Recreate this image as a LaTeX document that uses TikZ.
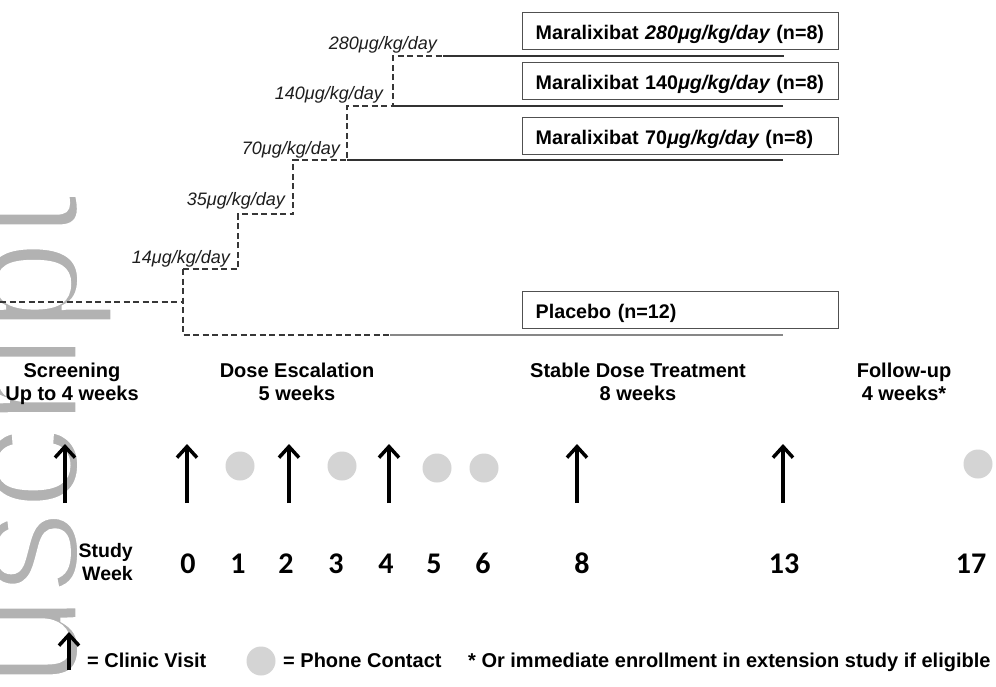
\documentclass[tikz,border=0pt]{standalone}
\usepackage{fontspec}
\setmainfont{Liberation Sans}
\newfontfamily\calibfont{Carlito}
\usetikzlibrary{arrows.meta}
\definecolor{dashcol}{RGB}{55,55,55}
\definecolor{armcol}{RGB}{50,50,50}
\definecolor{placebocol}{RGB}{135,135,135}
\definecolor{boxcol}{RGB}{80,80,80}
\definecolor{dotcol}{RGB}{212,212,212}
\definecolor{wmcol}{RGB}{178,178,178}
\definecolor{labcol}{RGB}{30,30,30}
% thin the watermark glyphs: fill, then stroke the outline in white
\newcommand\thinglyphs[1]{\special{pdf:literal direct 1 1 1 RG 5 w 2 Tr}#1\special{pdf:literal direct 0 Tr}}
\begin{document}
\begin{tikzpicture}[x=1pt,y=-1pt,
  dose/.style={draw=dashcol, line width=1.6pt, dash pattern=on 6pt off 3.5pt},
  arm/.style={draw=armcol, line width=1.5pt},
  placeboarm/.style={draw=placebocol, line width=2.2pt},
  armbox/.style={draw=boxcol, line width=1.4pt, anchor=north west,
    minimum width=316pt, minimum height=37pt, inner xsep=13pt, inner ysep=0pt,
    text width=290pt, align=left, text height=27pt, text depth=10pt,
    font=\fontsize{19.7}{22}\selectfont\bfseries},
  doselab/.style={anchor=base east, inner sep=0pt, text=labcol,
    font=\fontsize{18}{20}\selectfont\itshape},
  phase/.style={anchor=base, inner sep=0pt, align=center,
    font=\fontsize{20}{23}\selectfont\bfseries},
  weeknum/.style={anchor=base, inner sep=0pt,
    font=\calibfont\bfseries\fontsize{30}{32}\selectfont},
  legendtext/.style={anchor=base west, inner sep=0pt,
    font=\fontsize{20}{23}\selectfont\bfseries},
  visit/.style={line width=3.5pt, -{Straight Barb[length=11pt,width=20pt]}},
  phone/.style={circle, fill=dotcol, minimum size=29pt, inner sep=0pt},
  watermark/.style={rotate=90, anchor=base west, inner sep=0pt, text=wmcol,
    font=\fontsize{168}{170}\selectfont}
]
\useasboundingbox (0,0) rectangle (996,686);
\clip (0,0) rectangle (996,686);
\fill[white] (0,0) rectangle (996,686);

% watermark
\node[watermark] (wm) at (78,688) {\thinglyphs{uscript}};

% dose escalation coordinates
\coordinate (s0) at (0,302);
\coordinate (s1) at (183,302);
\coordinate (d0) at (183,269);
\coordinate (pl0) at (183,335);
\coordinate (pl1) at (390,335);
\coordinate (pl2) at (783,335);
\coordinate (a1) at (238,269);
\coordinate (a2) at (238,214);
\coordinate (a3) at (293,214);
\coordinate (a4) at (293,160);
\coordinate (a5) at (347,160);
\coordinate (a6) at (347,106);
\coordinate (a7) at (393,106);
\coordinate (a8) at (393,56);
\coordinate (a9) at (443,56);
\coordinate (e70) at (783,160);
\coordinate (e140) at (783,106);
\coordinate (e280) at (784,56);

\draw[dose] (s0) -- (s1);
\draw[dose] (d0) -- (pl0) -- (pl1);
\draw[placeboarm] (pl1) -- (pl2);
\draw[dose] (d0) -- (a1) -- (a2) -- (a3) -- (a4) -- (a5) -- (a6) -- (a7) -- (a8) -- (a9);
\draw[arm] (a5) -- (e70);
\draw[arm] (a7) -- (e140);
\draw[arm] (a9) -- (e280);

% dose labels
\node[doselab] (l280) at (437,49) {280μg/kg/day};
\node[doselab] (l140) at (383,99) {140μg/kg/day};
\node[doselab] (l70) at (340,154) {70μg/kg/day};
\node[doselab] (l35) at (285,205) {35μg/kg/day};
\node[doselab] (l14) at (230,263) {14μg/kg/day};

% arm boxes
\node[armbox] (b280) at (522,12) {Maralixibat {\itshape 280μg/kg/day} (n=8)};
\node[armbox] (b140) at (522,62) {Maralixibat 140{\itshape μg/kg/day} (n=8)};
\node[armbox] (b70) at (522,117) {Maralixibat 70{\itshape μg/kg/day} (n=8)};
\node[armbox] (bpl) at (522,291) {Placebo (n=12)};

% phases (base anchor = last line)
\node[phase] (ph1) at (72,400) {Screening\\Up to 4 weeks};
\node[phase] (ph2) at (297,400) {Dose Escalation\\5 weeks};
\node[phase] (ph3) at (638,400) {Stable Dose Treatment\\8 weeks};
\node[phase] (ph4) at (904,400) {Follow-up\\4 weeks*};

% clinic visits
\foreach \n/\x in {s/65, w0/187, w2/289, w4/389, w8/577, w13/783} {
  \coordinate (vb\n) at (\x,503);
  \coordinate (vt\n) at (\x,444);
  \draw[visit] (vb\n) -- (vt\n);
}

% phone contacts
\node[phone] (p1) at (240,466) {};
\node[phone] (p3) at (342,466) {};
\node[phone] (p5) at (437,468) {};
\node[phone] (p6) at (484,468) {};
\node[phone] (p17) at (978,464) {};

% study weeks
\node[anchor=base east, inner sep=0pt, align=right,
  font=\fontsize{19.5}{23}\selectfont\bfseries] (sw) at (133,580) {Study\\Week};
\foreach \w/\x in {0/188, 1/238, 2/286, 3/336, 4/386, 5/434, 6/483, 8/582, 13/784, 17/971} {
  \node[weeknum] (wk\w) at (\x,573) {\w};
}

% legend
\coordinate (lgb) at (69,670);
\coordinate (lgt) at (69,632);
\draw[visit] (lgb) -- (lgt);
\node[legendtext] (lg1) at (87,667) {= Clinic Visit};
\node[phone] (lgd) at (261,661) {};
\node[legendtext] (lg2) at (283,667) {= Phone Contact};
\node[legendtext] (lg3) at (468,667) {* Or immediate enrollment in extension study if eligible};
\end{tikzpicture}
\end{document}
